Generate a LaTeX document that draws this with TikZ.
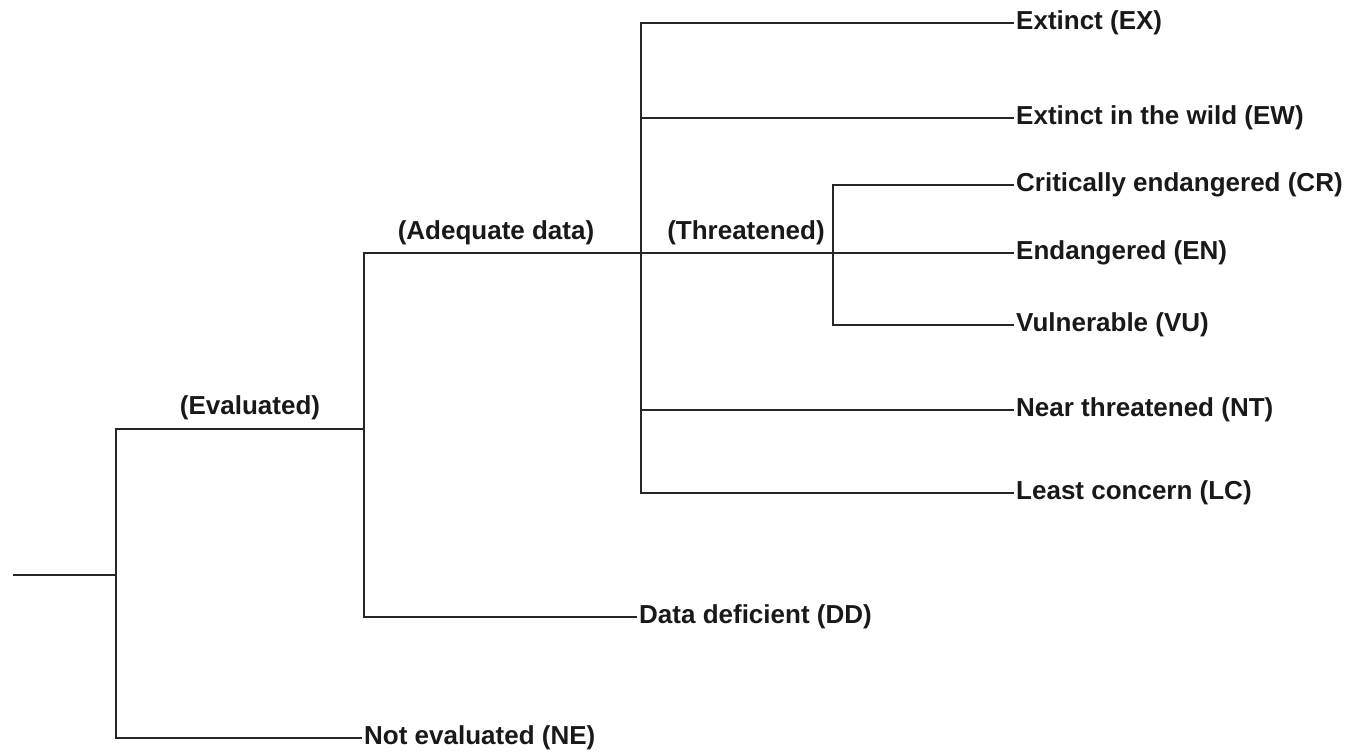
\documentclass[tikz,border=0pt]{standalone}
\usepackage{fontspec}
\setmainfont{Liberation Sans}
\begin{document}
\begin{tikzpicture}[x=1pt,y=-1pt,
  br/.style={line width=2.4pt,line cap=rect,line join=miter,color=black!85},
  leaf/.style={anchor=west,inner sep=3pt,font=\fontsize{26}{30}\selectfont\bfseries,text=black!90},
  lbl/.style={inner sep=0pt,font=\fontsize{26}{30}\selectfont\bfseries,text=black!90}]
\useasboundingbox (0,0) rectangle (1357,755);
% junction coordinates
\coordinate (root) at (14,575);
\coordinate (j0) at (116,575);
\coordinate (j0t) at (116,429);
\coordinate (j0b) at (116,738);
\coordinate (j1) at (364,429);
\coordinate (j1t) at (364,253);
\coordinate (j1b) at (364,617);
\coordinate (j2) at (641,253);
\coordinate (j2t) at (641,23);
\coordinate (j2ew) at (641,118);
\coordinate (j2nt) at (641,410);
\coordinate (j2b) at (641,493);
\coordinate (j3) at (833,253);
\coordinate (j3t) at (833,185);
\coordinate (j3b) at (833,325);
% leaf nodes
\node[leaf] (EX) at (1013,23) {Extinct (EX)};
\node[leaf] (EW) at (1013,118) {Extinct in the wild (EW)};
\node[leaf] (CR) at (1013,185) {Critically endangered (CR)};
\node[leaf] (EN) at (1013,253) {Endangered (EN)};
\node[leaf] (VU) at (1013,325) {Vulnerable (VU)};
\node[leaf] (NT) at (1013,410) {Near threatened (NT)};
\node[leaf] (LC) at (1013,493) {Least concern (LC)};
\node[leaf] (DD) at (636,617) {Data deficient (DD)};
\node[leaf] (NE) at (361,738) {Not evaluated (NE)};
% branch labels
\node[lbl] (lev) at (250,408) {(Evaluated)};
\node[lbl] (lad) at (496,233) {(Adequate data)};
\node[lbl] (lth) at (746,233) {(Threatened)};
% connectors
\draw[br] (root) -- (j0);
\draw[br] (j0t) -- (j0b);
\draw[br] (j0t) -- (j1);
\draw[br] (j0b) -- (NE.west);
\draw[br] (j1t) -- (j1b);
\draw[br] (j1t) -- (j2);
\draw[br] (j1b) -- (DD.west);
\draw[br] (j2t) -- (j2b);
\draw[br] (j2t) -- (EX.west);
\draw[br] (j2ew) -- (EW.west);
\draw[br] (j2) -- (j3);
\draw[br] (j3) -- (EN.west);
\draw[br] (j3t) -- (j3b);
\draw[br] (j3t) -- (CR.west);
\draw[br] (j3b) -- (VU.west);
\draw[br] (j2nt) -- (NT.west);
\draw[br] (j2b) -- (LC.west);
\end{tikzpicture}
\end{document}
